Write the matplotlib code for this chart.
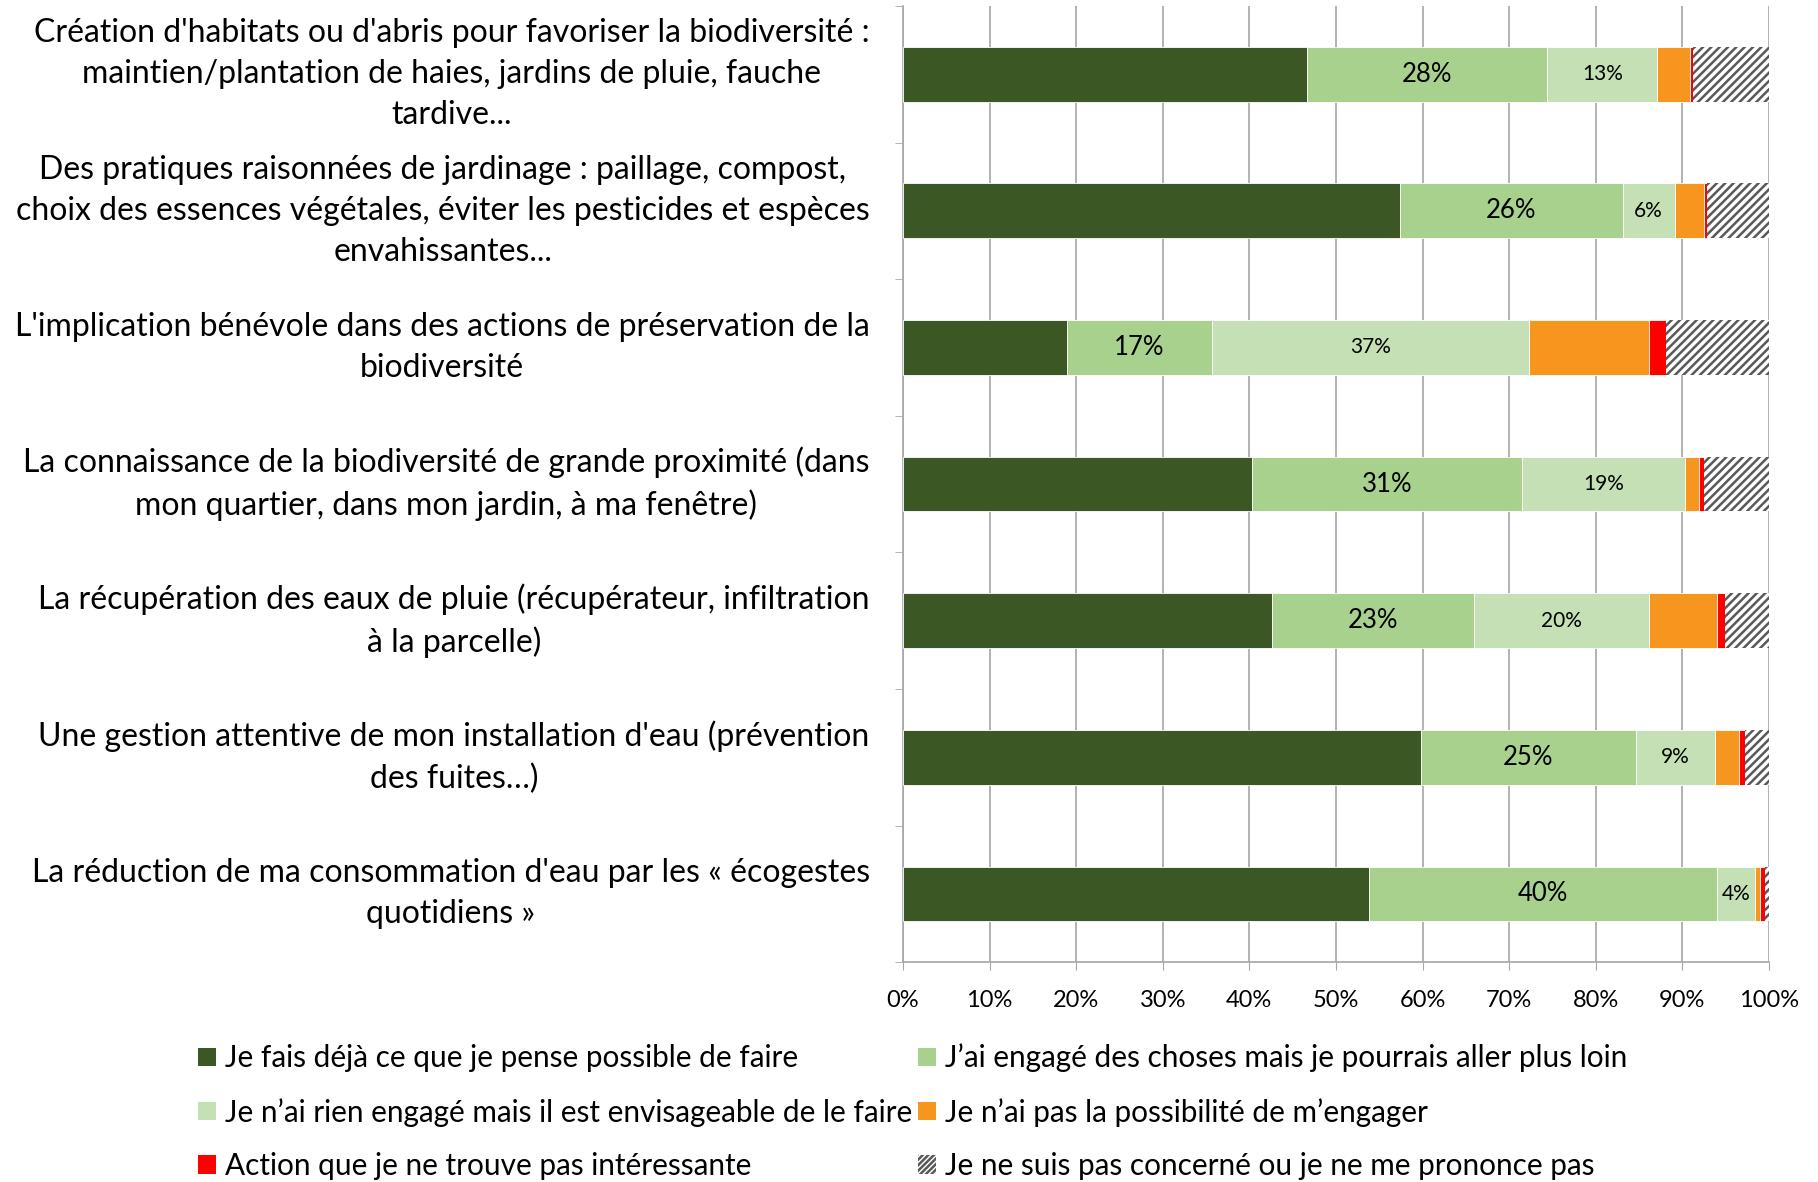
import numpy as np
import matplotlib.pyplot as plt
from matplotlib.patches import Patch

plt.rcParams['font.family'] = ['Lato', 'DejaVu Sans']
plt.rcParams['hatch.linewidth'] = 1.8

categories = [
    "Création d'habitats ou d'abris pour favoriser la biodiversité :\nmaintien/plantation de haies, jardins de pluie, fauche\ntardive...",
    "Des pratiques raisonnées de jardinage : paillage, compost,\nchoix des essences végétales, éviter les pesticides et espèces\nenvahissantes...",
    "L'implication bénévole dans des actions de préservation de la\nbiodiversité",
    "La connaissance de la biodiversité de grande proximité (dans\nmon quartier, dans mon jardin, à ma fenêtre)",
    "La récupération des eaux de pluie (récupérateur, infiltration\nà la parcelle)",
    "Une gestion attentive de mon installation d'eau (prévention\ndes fuites…)",
    "La réduction de ma consommation d'eau par les « écogestes\nquotidiens »",
]

series_names = [
    "Je fais déjà ce que je pense possible de faire",
    "J’ai engagé des choses mais je pourrais aller plus loin",
    "Je n’ai rien engagé mais il est envisageable de le faire",
    "Je n’ai pas la possibilité de m’engager",
    "Action que je ne trouve pas intéressante",
    "Je ne suis pas concerné ou je ne me prononce pas",
]

deja_fait = [46.6, 57.4, 18.9, 40.3, 42.6, 59.8, 53.8]
engage = [27.8, 25.7, 16.8, 31.2, 23.3, 24.8, 40.2]
envisageable = [12.7, 6.0, 36.6, 18.8, 20.2, 9.2, 4.4]
pas_possible = [3.8, 3.4, 13.9, 1.6, 7.9, 2.8, 0.6]
pas_interessant = [0.3, 0.3, 1.9, 0.6, 0.9, 0.6, 0.6]
pas_concerne = [8.8, 7.2, 11.9, 7.5, 5.1, 2.8, 0.4]

series = [deja_fait, engage, envisageable, pas_possible, pas_interessant, pas_concerne]
colors = ['#3B5724', '#A9D18E', '#C5E0B4', '#F7961E', '#FF0000', 'white']

fig = plt.figure(figsize=(18.18, 11.82), dpi=100)
ax = fig.add_axes([0.4967, 0.186, 0.4763, 0.809])

y = np.arange(len(categories))
left = np.zeros(len(categories))
handles = []
for i, (vals, col) in enumerate(zip(series, colors)):
    vals = np.array(vals)
    if i == 5:
        bars = ax.barh(y, vals, left=left, height=0.4, color='white',
                       edgecolor='#595959', hatch='////', linewidth=0, zorder=3)
        handles.append(Patch(facecolor='white', edgecolor='#595959', hatch='//////',
                             linewidth=0, label=series_names[i]))
    else:
        bars = ax.barh(y, vals, left=left, height=0.4, color=col,
                       edgecolor='white', linewidth=0.6, zorder=3)
        handles.append(Patch(facecolor=col, label=series_names[i]))
    if i == 1:
        ax.bar_label(bars, labels=[f"{v:.0f}%" for v in vals], label_type='center',
                     fontsize=18.5)
    elif i == 2:
        ax.bar_label(bars, labels=[f"{v:.0f}%" for v in vals], label_type='center',
                     fontsize=15)
    left += vals

ax.set_xlim(0, 100)
ax.set_ylim(len(categories) - 0.5, -0.5)
ax.set_xticks(np.arange(0, 101, 10))
ax.set_xticklabels([f"{t}%" for t in range(0, 101, 10)], fontsize=17)
ax.set_yticks(y)
ax.set_yticklabels(categories, fontsize=23, multialignment='center', linespacing=1.45,
                   va='center')
ax.set_yticks(np.arange(-0.5, len(categories), 1), minor=True)
ax.tick_params(axis='y', which='major', length=0, pad=24)
ax.tick_params(axis='y', which='minor', length=6, color='#A6A6A6', direction='out')
ax.tick_params(axis='x', length=6, color='#A6A6A6', direction='out', pad=14)
ax.grid(axis='x', color='#A6A6A6', linewidth=1.2, zorder=0)
ax.set_axisbelow(True)
for s in ['top', 'right']:
    ax.spines[s].set_visible(False)
for s in ['left', 'bottom']:
    ax.spines[s].set_color('#A6A6A6')
    ax.spines[s].set_linewidth(1.2)

order = [0, 2, 4, 1, 3, 5]
fig.legend([handles[k] for k in order], [series_names[k] for k in order],
           ncol=2, loc='upper left', bbox_to_anchor=(0.109, 0.117), frameon=False,
           fontsize=21.4, handlelength=0.6, handleheight=0.6, handletextpad=0.3,
           columnspacing=0.2, labelspacing=0.85, borderpad=0, borderaxespad=0)

fig.savefig('out.png', dpi=100)
